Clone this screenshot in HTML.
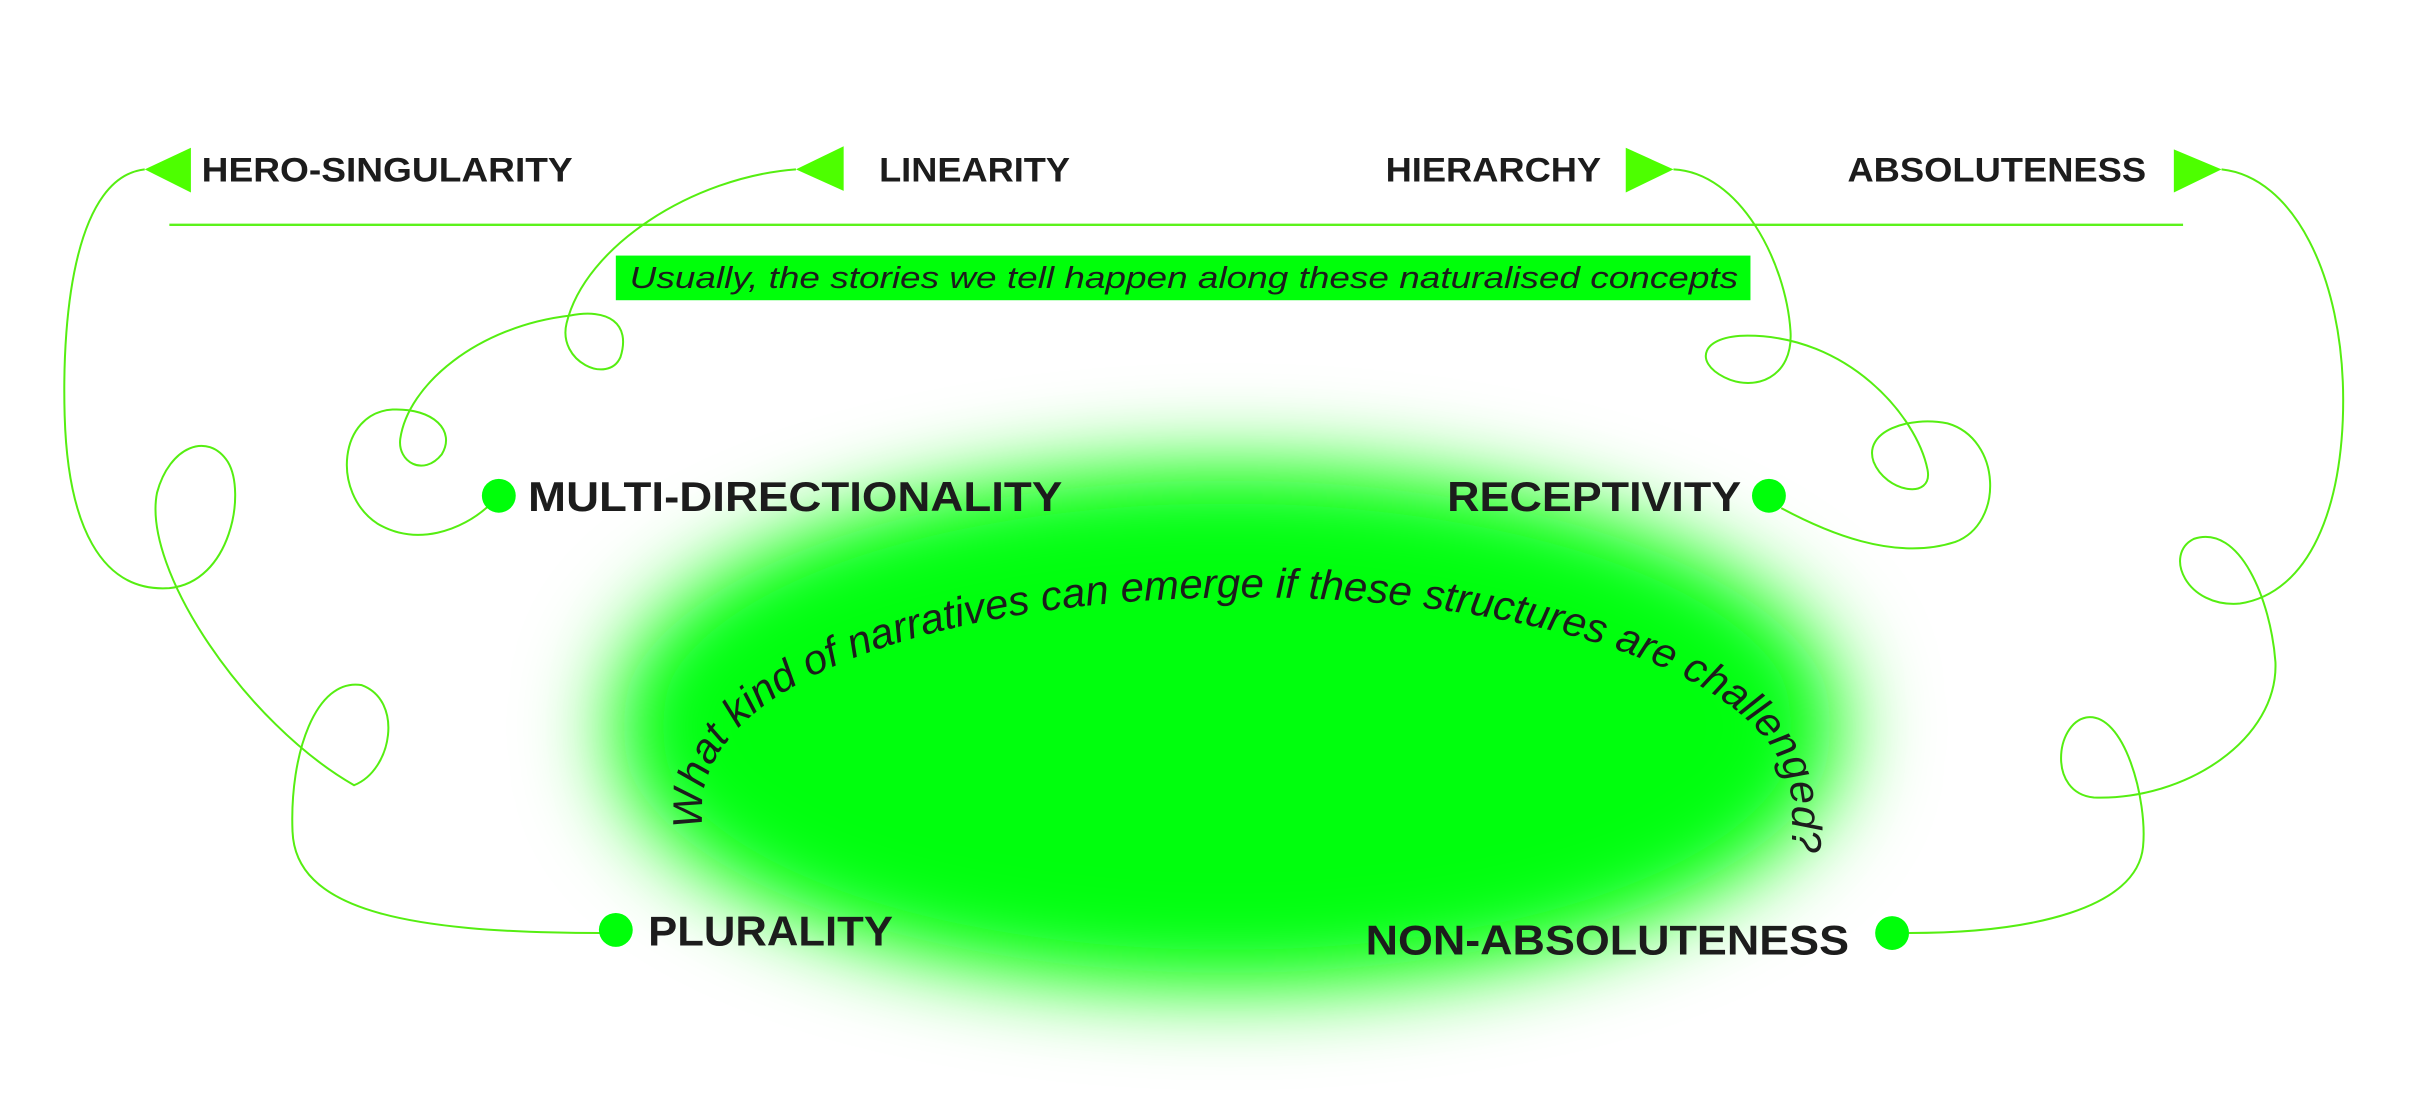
<!DOCTYPE html>
<html><head><meta charset="utf-8"><style>
html,body{margin:0;padding:0;background:#fff;}
svg{display:block;}
text{font-family:"Liberation Sans",sans-serif;fill:#1c1c1c;}
</style></head><body>
<svg width="2414" height="1117" viewBox="0 0 1568 725.5" preserveAspectRatio="none" xmlns="http://www.w3.org/2000/svg">
<defs>
<filter id="b" x="-50%" y="-50%" width="200%" height="200%"><feGaussianBlur stdDeviation="32"/></filter>
<path id="arc" d="M456,538 L456,526 C456,440 620,388 810,388 C1000,388 1164,440 1164,526 L1164,560"/>
</defs>
<ellipse cx="797" cy="472" rx="395" ry="160" fill="#00ff0a" filter="url(#b)"/>
<ellipse cx="797" cy="472" rx="370" ry="145" fill="#00ff0a" filter="url(#b)"/>

<line x1="110" y1="146" x2="1418" y2="146" stroke="#5cf21c" stroke-width="1.5"/>

<g fill="#4dff00">
<polygon points="94,110 124,96 124,125"/>
<polygon points="517,110 548,95 548,124"/>
<polygon points="1087,110 1056,96 1056,125"/>
<polygon points="1443,110 1412,97 1412,125"/>
</g>
<g font-weight="bold" font-size="22">
<text x="131" y="118" textLength="241" lengthAdjust="spacingAndGlyphs">HERO-SINGULARITY</text>
<text x="571" y="118" textLength="124" lengthAdjust="spacingAndGlyphs">LINEARITY</text>
<text x="900" y="118" textLength="140" lengthAdjust="spacingAndGlyphs">HIERARCHY</text>
<text x="1200" y="118" textLength="194" lengthAdjust="spacingAndGlyphs">ABSOLUTENESS</text>
</g>

<rect x="400" y="166" width="737" height="29" fill="#00ff0a"/>
<text x="409" y="187" font-size="20" font-style="italic" textLength="720" lengthAdjust="spacingAndGlyphs">Usually, the stories we tell happen along these naturalised concepts</text>

<g fill="none" stroke="#55ee11" stroke-width="1.3">
<path d="M94,110 C50,115 40,200 42,270 C44,340 65,385 110,382 C150,378 160,320 148,300 C135,280 110,290 102,320 C92,370 160,470 230,510 C255,500 262,455 235,445 C205,440 188,490 190,540 C192,590 260,606 390,606"/>
<path d="M517,110 C450,115 380,160 368,210 C362,235 395,250 403,232 C410,210 395,200 370,205 C310,212 265,250 260,285 C258,300 275,310 287,295 C296,280 282,265 255,266 C220,268 215,320 245,340 C270,355 300,345 318,328"/>
<path d="M1087,110 C1130,112 1160,170 1163,215 C1165,245 1140,255 1120,245 C1100,235 1105,218 1135,218 C1200,218 1245,270 1252,305 C1256,325 1225,320 1217,300 C1210,280 1240,270 1265,275 C1300,285 1302,340 1270,352 C1230,365 1185,345 1157,330"/>
<path d="M1443,110 C1490,115 1522,180 1522,260 C1522,330 1500,385 1455,392 C1420,395 1405,360 1425,350 C1455,340 1475,390 1478,430 C1480,480 1420,520 1360,518 C1330,515 1335,470 1355,466 C1380,462 1395,520 1392,550 C1388,590 1320,606 1240,606"/>
</g>

<g fill="#00ff0a">
<circle cx="324" cy="322" r="11"/>
<circle cx="1149" cy="322" r="11"/>
<circle cx="400" cy="604" r="11"/>
<circle cx="1229" cy="606" r="11"/>
</g>
<g font-weight="bold" font-size="27">
<text x="343" y="332" textLength="347" lengthAdjust="spacingAndGlyphs">MULTI-DIRECTIONALITY</text>
<text x="940" y="332" textLength="191" lengthAdjust="spacingAndGlyphs">RECEPTIVITY</text>
<text x="421" y="614" textLength="159" lengthAdjust="spacingAndGlyphs">PLURALITY</text>
<text x="887" y="620" textLength="314" lengthAdjust="spacingAndGlyphs">NON-ABSOLUTENESS</text>
</g>

<text font-size="27" font-style="italic"><textPath href="#arc" startOffset="0" textLength="855" lengthAdjust="spacingAndGlyphs">What kind of narratives can emerge if these structures are challenged?</textPath></text>
</svg>
</body></html>
